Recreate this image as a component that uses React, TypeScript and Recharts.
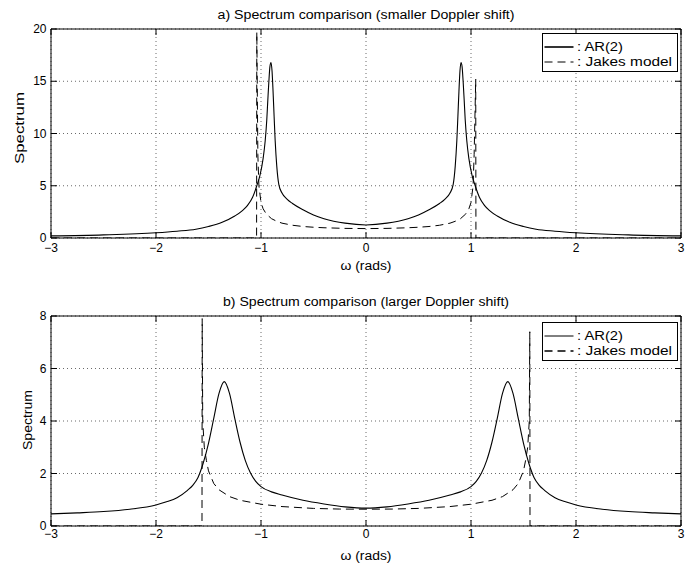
import React from 'react';
import { LineChart, Line, XAxis, YAxis, CartesianGrid, ReferenceLine, Legend } from 'recharts';

const FONT = '"Liberation Sans", Arial, Helvetica, sans-serif';

// ---------- shared axis data ----------
const xTicks = [-3, -2, -1, 0, 1, 2, 3];
const yTicksA = [0, 5, 10, 15, 20];
const yTicksB = [0, 2, 4, 6, 8];

const titleA = 'a) Spectrum comparison (smaller Doppler shift)';
const titleB = 'b) Spectrum comparison (larger Doppler shift)';
const xLabel = 'ω (rads)';
const yLabel = 'Spectrum';
const seriesNames = [': AR(2)', ': Jakes model'];

// ---------- panel a: AR(2) ----------
const arOmegaA = [
  -3, -2.5, -2, -1.8, -1.62, -1.5, -1.37, -1.25, -1.18, -1.13, -1.08, -1.04, -1.01, -0.98, -0.96, -0.945,
  -0.935, -0.925, -0.915, -0.905, -0.895, -0.885, -0.875, -0.865, -0.85, -0.83, -0.8, -0.75, -0.7, -0.6, -0.5, -0.4, -0.2,
  0,
  0.2, 0.4, 0.5, 0.6, 0.7, 0.75, 0.8, 0.83, 0.85, 0.865, 0.875, 0.885, 0.895, 0.905, 0.915, 0.925, 0.935,
  0.945, 0.96, 0.98, 1.01, 1.04, 1.08, 1.13, 1.18, 1.25, 1.37, 1.5, 1.62, 1.8, 2, 2.5, 3,
];
const arValuesA = [
  0.2, 0.3, 0.5, 0.65, 0.84, 1.1, 1.5, 2.1, 2.6, 3.1, 3.9, 5.0, 6.0, 7.6, 9.3, 11.3,
  13.2, 15.0, 16.4, 16.8, 16.0, 14.0, 11.6, 9.3, 6.9, 5.1, 4.3, 3.7, 3.3, 2.7, 2.2, 1.85, 1.42,
  1.25,
  1.42, 1.85, 2.2, 2.7, 3.3, 3.7, 4.3, 5.1, 6.9, 9.3, 11.6, 14.0, 16.0, 16.8, 16.4, 15.0, 13.2,
  11.3, 9.3, 7.6, 6.0, 5.0, 3.9, 3.1, 2.6, 2.1, 1.5, 1.1, 0.84, 0.65, 0.5, 0.3, 0.2,
];

// ---------- panel a: Jakes ----------
const jakesOmegaA = [
  -3, -1.042, -1.04, -1.03, -1.02, -1.0, -0.98, -0.95, -0.9, -0.85, -0.8, -0.7, -0.6, -0.5, -0.4, -0.2,
  0,
  0.2, 0.4, 0.5, 0.6, 0.7, 0.8, 0.85, 0.9, 0.95, 0.98, 1.0, 1.02, 1.03, 1.045, 1.047, 3,
];
const jakesValuesA = [
  0, 0, 19.7, 8.0, 5.0, 3.4, 2.8, 2.3, 1.85, 1.6, 1.42, 1.22, 1.1, 1.03, 0.98, 0.92,
  0.9,
  0.92, 0.98, 1.03, 1.1, 1.22, 1.42, 1.6, 1.85, 2.3, 2.8, 3.4, 5.0, 8.0, 15.2, 0, 0,
];

// ---------- panel b: AR(2) ----------
const arOmegaB = [
  -3, -2.75, -2.5, -2.25, -2, -1.9, -1.8, -1.7, -1.65, -1.6, -1.55, -1.5, -1.45, -1.4, -1.35, -1.3,
  -1.25, -1.2, -1.15, -1.1, -1.05, -1.0, -0.9, -0.8, -0.6, -0.4, -0.2,
  0,
  0.2, 0.4, 0.6, 0.8, 0.9, 1.0, 1.05, 1.1, 1.15, 1.2, 1.25, 1.3, 1.35, 1.4, 1.45, 1.5,
  1.55, 1.6, 1.65, 1.7, 1.8, 1.9, 2, 2.25, 2.5, 2.75, 3,
];
const arValuesB = [
  0.46, 0.5, 0.55, 0.64, 0.8, 0.92, 1.08, 1.36, 1.55, 1.85, 2.4, 3.15, 4.1, 5.05, 5.5, 5.05,
  4.1, 3.2, 2.5, 2.02, 1.7, 1.5, 1.3, 1.18, 0.98, 0.84, 0.73,
  0.68,
  0.73, 0.84, 0.98, 1.18, 1.3, 1.5, 1.7, 2.02, 2.5, 3.2, 4.1, 5.05, 5.5, 5.05, 4.1, 3.15,
  2.4, 1.85, 1.55, 1.36, 1.08, 0.92, 0.8, 0.64, 0.55, 0.5, 0.46,
];

// ---------- panel b: Jakes ----------
const jakesOmegaB = [
  -3, -1.562, -1.56, -1.555, -1.54, -1.52, -1.5, -1.45, -1.4, -1.3, -1.2, -1.0, -0.8, -0.5, -0.25,
  0,
  0.25, 0.5, 0.8, 1.0, 1.2, 1.3, 1.4, 1.45, 1.5, 1.52, 1.54, 1.555, 1.56, 1.562, 3,
];
const jakesValuesB = [
  0, 0, 7.9, 4.0, 3.0, 2.5, 2.1, 1.62, 1.38, 1.12, 0.98, 0.83, 0.74, 0.67, 0.645,
  0.64,
  0.645, 0.67, 0.74, 0.83, 0.98, 1.12, 1.38, 1.62, 2.1, 2.5, 3.0, 4.0, 7.4, 0, 0,
];

const toPoints = (ws: number[], vs: number[]) => ws.map((w, i) => ({ w, s: vs[i] }));

const fmt = (v: number) => (v < 0 ? '\u2212' + Math.abs(v) : String(v));

// ---------- small renderers ----------
const SText = (p: any) => (
  <text
    x={p.px}
    y={p.py}
    textAnchor="middle"
    dominantBaseline="central"
    fontSize={p.size || 12}
    fontFamily={FONT}
    fill="#000"
    textLength={p.len}
    lengthAdjust="spacingAndGlyphs"
    transform={p.rot ? `rotate(-90, ${p.px}, ${p.py})` : undefined}
  >
    {p.text}
  </text>
);

const XTick = (p: any) => {
  const { x, y, payload, plotH, dy } = p;
  return (
    <g>
      <line x1={x} x2={x} y1={y} y2={y - 6} stroke="#000" strokeWidth={1} />
      <line x1={x} x2={x} y1={y - plotH} y2={y - plotH + 6} stroke="#000" strokeWidth={1} />
      <text x={x} y={y + dy} textAnchor="middle" dominantBaseline="central" fontSize={12} fontFamily={FONT} fill="#000">
        {fmt(payload.value)}
      </text>
    </g>
  );
};

const YTick = (p: any) => {
  const { x, y, payload, plotW, dy } = p;
  return (
    <g>
      <line x1={x} x2={x + 6} y1={y} y2={y} stroke="#000" strokeWidth={1} />
      <line x1={x + plotW - 6} x2={x + plotW} y1={y} y2={y} stroke="#000" strokeWidth={1} />
      <text x={x - 4.5} y={y + (dy || 0)} textAnchor="end" dominantBaseline="central" fontSize={12} fontFamily={FONT} fill="#000">
        {fmt(payload.value)}
      </text>
    </g>
  );
};

const LegendBox = (p: any) => (
  <svg width={136} height={39} style={{ display: 'block' }}>
    <rect x={0.5} y={0.5} width={135} height={38} fill="#fff" stroke="#000" strokeWidth={1} />
    <line x1={2.5} x2={31.5} y1={14} y2={14} stroke="#000" strokeWidth={p.solidW} />
    <text x={35} y={14} dominantBaseline="central" fontSize={12} fontFamily={FONT} fill="#000" textLength={46} lengthAdjust="spacingAndGlyphs">
      {seriesNames[0]}
    </text>
    <line x1={2.5} x2={31.5} y1={29} y2={29} stroke="#000" strokeWidth={p.dashW} strokeDasharray="8 5" />
    <text x={35} y={29} dominantBaseline="central" fontSize={12} fontFamily={FONT} fill="#000" textLength={95} lengthAdjust="spacingAndGlyphs">
      {seriesNames[1]}
    </text>
  </svg>
);

const W = 697;
const H = 283;
const PLOT_LEFT = 51;
const PLOT_W = 630;

const Panel = (p: any) => {
  const plotH = p.plotH;
  const xAxisH = H - p.marginTop - plotH;
  const cx = PLOT_LEFT + PLOT_W / 2;
  return (
    <LineChart width={W} height={H} margin={{ top: p.marginTop, right: W - PLOT_LEFT - PLOT_W, bottom: 0, left: 0 }}>
      <CartesianGrid stroke="#444" strokeDasharray="1 3" strokeWidth={0.8} />
      <XAxis
        type="number"
        dataKey="w"
        domain={[-3, 3]}
        ticks={xTicks}
        interval={0}
        allowDataOverflow
        height={xAxisH}
        tickSize={0}
        tickMargin={0}
        tickLine={false}
        axisLine={{ stroke: '#000', strokeWidth: 1 }}
        tick={<XTick plotH={plotH} dy={p.xTickDy} />}
        label={<SText px={cx} py={p.xLabelY} text={xLabel} len={51} />}
      />
      <YAxis
        type="number"
        domain={[0, p.yMax]}
        ticks={p.yTicks}
        interval={0}
        allowDataOverflow
        width={PLOT_LEFT}
        tickSize={0}
        tickMargin={0}
        tickLine={false}
        axisLine={{ stroke: '#000', strokeWidth: 1 }}
        tick={<YTick plotW={PLOT_W} />}
        label={<SText px={p.yLabelX} py={p.yLabelY} text={yLabel} len={p.yLabelLen} rot />}
      />
      <ReferenceLine
        y={p.yMax}
        stroke="#000"
        strokeWidth={1}
        label={<SText px={cx} py={p.titleY} text={p.title} len={p.titleLen} />}
      />
      <ReferenceLine x={3} stroke="#000" strokeWidth={1} />
      <Line
        data={p.jakes}
        dataKey="s"
        type="linear"
        dot={false}
        activeDot={false}
        stroke="#000"
        strokeWidth={1}
        strokeDasharray="8 5"
        isAnimationActive={false}
        name="Jakes model"
      />
      <Line
        data={p.ar}
        dataKey="s"
        type="monotone"
        dot={false}
        activeDot={false}
        stroke="#000"
        strokeWidth={1.1}
        isAnimationActive={false}
        name="AR(2)"
      />
      <Legend
        layout="vertical"
        align="center"
        verticalAlign="middle"
        width={136}
        height={39}
        wrapperStyle={{ left: 542, top: p.legendTop, width: 136, height: 39 }}
        content={<LegendBox solidW={p.legendSolidW} dashW={p.legendDashW} />}
      />
    </LineChart>
  );
};

export default function App() {
  const arA = toPoints(arOmegaA, arValuesA);
  const jkA = toPoints(jakesOmegaA, jakesValuesA);
  const arB = toPoints(arOmegaB, arValuesB);
  const jkB = toPoints(jakesOmegaB, jakesValuesB);
  return (
    <div style={{ position: 'absolute', left: 0, top: 0, width: W, height: 566, background: '#fff' }}>
      <div style={{ position: 'absolute', left: 0, top: 0 }}>
        <Panel
          marginTop={29}
          plotH={209}
          yMax={20}
          yTicks={yTicksA}
          ar={arA}
          jakes={jkA}
          title={titleA}
          titleLen={297}
          titleY={14.5}
          xTickDy={10}
          xLabelY={266}
          yLabelX={20}
          yLabelY={128}
          yLabelLen={72}
          legendTop={33}
          legendSolidW={1.6}
          legendDashW={1}
        />
      </div>
      <div style={{ position: 'absolute', left: 0, top: H }}>
        <Panel
          marginTop={33}
          plotH={210}
          yMax={8}
          yTicks={yTicksB}
          ar={arB}
          jakes={jkB}
          title={titleB}
          titleLen={286}
          titleY={18.5}
          xTickDy={8}
          xLabelY={273}
          yLabelX={28}
          yLabelY={137}
          yLabelLen={60}
          legendTop={39}
          legendSolidW={1}
          legendDashW={1.6}
        />
      </div>
    </div>
  );
}
